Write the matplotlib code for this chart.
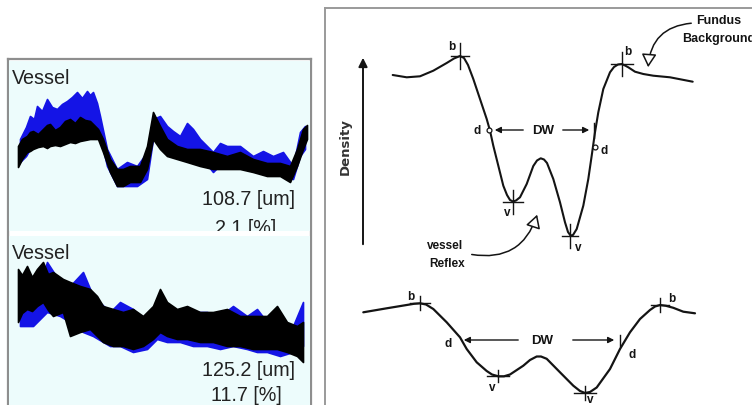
import numpy as np
import matplotlib
matplotlib.use('Agg')
import matplotlib.pyplot as plt
from matplotlib.patches import FancyArrowPatch

W, H = 752, 406

# ------------------------ vessel profile bands (left) ------------------------ #
# upper profile: sample position, band top / bottom (grey level)
top_blue_x = [10, 16, 20, 24, 27, 32, 37, 42, 47, 52, 57, 62, 67, 72, 77, 80, 83, 87, 90, 97,
              107, 117, 127, 137, 143, 150, 157, 163, 170, 177, 183, 190, 203, 210, 217, 230,
              243, 253, 263, 273, 283, 290, 295]
top_blue_hi = [92, 104, 115, 112, 125, 120, 132, 124, 122, 127, 130, 134, 139, 133, 140, 136, 139,
               128, 115, 82, 62, 69, 65, 79, 112, 115, 105, 100, 95, 108, 102, 92, 79, 88, 85, 85,
               75, 80, 75, 79, 65, 99, 105]
top_blue_lo = [69, 75, 82, 86, 92, 95, 99, 101, 102, 104, 105, 107, 109, 106, 105, 104, 102,
               98, 95, 65, 45, 45, 45, 52, 92, 92, 82, 80, 79, 80, 82, 75, 59, 66, 69, 65,
               62, 60, 62, 55, 52, 75, 82]

top_black_x = [8, 12, 17, 20, 23, 28, 33, 37, 40, 45, 50, 55, 60, 65, 70, 75, 80, 88, 93, 100,
               107, 113, 120, 130, 137, 143, 150, 157, 167, 177, 190, 203, 217, 230, 243, 257,
               270, 280, 287, 293, 297]
top_black_hi = [85, 92, 95, 99, 100, 97, 102, 106, 107, 101, 104, 110, 112, 108, 114, 111, 110,
                102, 92, 72, 62, 62, 65, 65, 85, 119, 105, 92, 85, 82, 82, 79, 75, 79, 72, 68,
                68, 65, 82, 102, 106]
top_black_lo = [64, 72, 79, 80, 82, 84, 85, 83, 85, 86, 85, 87, 89, 88, 90, 91, 92,
                92, 79, 59, 45, 45, 49, 49, 62, 92, 82, 75, 72, 69, 65, 62, 62, 62, 59, 55,
                55, 49, 65, 82, 92]

# lower profile
bot_blue_x = [10, 23, 37, 50, 60, 73, 83, 100, 110, 123, 137, 147, 157, 170, 183, 197, 210,
              223, 237, 247, 257, 270, 283, 293]
bot_blue_hi = [109, 99, 143, 123, 119, 133, 109, 93, 103, 96, 83, 83, 96, 89, 93, 93, 89,
               99, 89, 96, 83, 86, 79, 103]
bot_blue_lo = [79, 79, 93, 89, 83, 73, 69, 59, 59, 53, 56, 66, 63, 63, 59, 59, 56,
               59, 56, 53, 53, 49, 53, 59]

bot_black_x = [8, 12, 17, 22, 27, 33, 38, 43, 53, 60, 70, 80, 87, 93, 103, 113, 123, 133, 143,
               150, 157, 167, 177, 190, 203, 217, 230, 243, 257, 267, 277, 287, 293]
bot_black_hi = [136, 130, 139, 128, 136, 143, 131, 133, 126, 123, 119, 116, 109, 99, 96, 93, 96,
                89, 99, 116, 103, 96, 99, 93, 93, 96, 89, 89, 89, 99, 83, 79, 83]
bot_black_lo = [83, 92, 96, 94, 99, 103, 95, 89, 93, 69, 73, 76, 69, 63, 59, 59, 56, 59, 66,
                73, 69, 66, 66, 63, 63, 59, 59, 56, 56, 56, 53, 49, 43]

top_width, top_pct = '108.7 [um]', '2.1 [%]'
bot_width, bot_pct = '125.2 [um]', '11.7 [%]'

# -------------------------- schematic profiles (right) ----------------------- #
upper_x = [392.7, 406.7, 420, 433.3, 446.7, 454, 460, 464, 468, 473.3, 480, 486.7, 490, 493.3,
           498.3, 503.3, 507, 510, 513, 516, 520, 526.7, 533.3, 537, 540.7, 544, 547, 553.3,
           560, 565, 568, 570.5, 573, 576.7, 583.3, 588.3, 591.7, 595, 598.3, 603.3, 610, 614,
           618, 621.7, 625, 628.3, 635, 643.3, 653.3, 670, 692.7]
upper_y = [76, 78.3, 77.3, 71.7, 64, 59.5, 57, 59, 66, 80, 100, 120, 131.7, 146.7,
           166.7, 186.7, 196, 201, 202.5, 201.5, 198.3, 185, 167, 161.5, 159.3, 160.5, 164, 180,
           203.3, 223.3, 233, 236.5, 236, 230, 206.7, 180, 156.7, 133.3, 113.3, 90, 73.3, 68,
           65.5, 65, 66.5, 68.3, 72.7, 75, 76.7, 78.3, 82.7]

lower_x = [363.3, 386.7, 406.7, 414, 420, 426, 433.3, 446.7, 460, 466.7, 476.7, 486.7, 492,
           498.3, 504, 510, 523.3, 530, 536.7, 541, 546.7, 560, 573.3, 580, 585, 590, 596.7,
           610, 620, 630, 640, 650, 655, 660, 666, 673.3, 683.3, 695]
lower_y = [313.3, 309.3, 306, 304.8, 304.3, 305.5, 310, 323.3, 338.3, 350, 363.3, 372, 375.5,
           377.3, 377.3, 375.5, 366.7, 361, 357.5, 357.5, 359.8, 373.3, 386.7, 392, 394, 393,
           388.5, 370, 350, 333.3, 320, 311, 307.5, 306, 306.8, 308.8, 312.7, 314.3]

# cross marks at background (b) and vessel (v) points: x, y, half width, half height
upper_marks = [(460, 56.7, 9, 13), (621.7, 65, 11, 12), (512.7, 202.7, 10, 12), (570, 236.7, 8, 12)]
lower_marks = [(420, 304.3, 10, 7), (660, 306, 9, 7), (498.3, 377.3, 11, 6), (585, 394, 11, 7)]


def px_axes(fig, x0, y0, x1, y1):
    return fig.add_axes([x0 / W, 1 - y1 / H, (x1 - x0) / W, (y1 - y0) / H])


fig = plt.figure(figsize=(W / 100, H / 100), dpi=100)
fig.patch.set_facecolor('white')

# ------------------------------ left panel frame ----------------------------- #
frame = px_axes(fig, 8, 60, 311, 420)
frame.set_xticks([]); frame.set_yticks([])
for s in frame.spines.values():
    s.set_color('#8e8e8e'); s.set_linewidth(1.6)
frame.set_facecolor('white')

lab_font = dict(family='Liberation Sans', fontsize=14.2, color='#222222')


def profile_panel(box, ylim, bx, blo, bhi, kx, klo, khi, vessel_y, width_txt, width_y, pct_txt, pct_y):
    ax = px_axes(fig, *box)
    ax.set_facecolor('#edfcfc')
    ax.set_xlim(-1, 300); ax.set_ylim(*ylim)
    ax.set_xticks([]); ax.set_yticks([])
    for s in ax.spines.values():
        s.set_visible(False)
    ax.fill_between(bx, blo, bhi, color='#1414e6', lw=1.2, edgecolor='#1414e6')
    ax.fill_between(kx, klo, khi, color='black', lw=1.2, edgecolor='black')
    ax.text(2, vessel_y, 'Vessel', va='baseline', ha='left', **lab_font)
    ax.text(239, width_y, width_txt, va='baseline', ha='center', **lab_font)
    ax.text(236, pct_y, pct_txt, va='baseline', ha='center', clip_on=True, **lab_font)
    return ax


profile_panel((9, 62, 310, 232), (0, 170), top_blue_x, top_blue_lo, top_blue_hi,
              top_black_x, top_black_lo, top_black_hi, 148, top_width, 27, top_pct, -2)
profile_panel((9, 237, 310, 406), (0, 169), bot_blue_x, bot_blue_lo, bot_blue_hi,
              bot_black_x, bot_black_lo, bot_black_hi, 147, bot_width, 30, bot_pct, 5)

# ------------------------------ right schematic ------------------------------ #
ax = px_axes(fig, 325, 9, 752, 406)
ax.set_xlim(325, 752); ax.set_ylim(406, 9)
ax.set_xticks([]); ax.set_yticks([])
for side in ('right', 'bottom'):
    ax.spines[side].set_visible(False)
for side in ('left', 'top'):
    ax.spines[side].set_color('#9a9a9a'); ax.spines[side].set_linewidth(1.4)

ink = '#141414'
ax.plot(upper_x, upper_y, color=ink, lw=1.5, solid_joinstyle='round', solid_capstyle='round')
ax.plot(lower_x, lower_y, color=ink, lw=1.6, solid_joinstyle='round', solid_capstyle='round')
for x, y, hw, hh in upper_marks + lower_marks:
    ax.plot([x - hw, x + hw], [y, y], color=ink, lw=1.0)
    ax.plot([x, x], [y - hh, y + hh], color=ink, lw=1.0)

small = dict(family='Liberation Sans', fontweight='bold', fontsize=8.5, color=ink,
             ha='center', va='center')
for tx, ty, s in [(452, 47, 'b'), (628, 52, 'b'), (477, 131, 'd'), (604, 151, 'd'),
                  (507, 213, 'v'), (578, 248, 'v'),
                  (411, 297, 'b'), (672, 299, 'b'), (448, 344, 'd'), (632, 355, 'd'),
                  (492, 388, 'v'), (590, 400, 'v')]:
    ax.text(tx, ty, s, **small)

# DW width arrows
dw = dict(arrowstyle='-|>', color=ink, lw=1.0, mutation_scale=9)
ax.text(543, 131, 'DW', family='Liberation Sans', fontweight='bold', fontsize=9.5,
        color=ink, ha='center', va='center')
ax.annotate('', xy=(492, 131), xytext=(526, 131), arrowprops=dw)
ax.annotate('', xy=(592, 131), xytext=(560, 131), arrowprops=dw)
ax.plot([594, 594], [124, 139], color=ink, lw=1.0)
ax.plot([489, 595], [131, 148], ls='none', marker='o', ms=3.5, mfc='white', mec=ink, mew=0.9)

ax.text(542, 341, 'DW', family='Liberation Sans', fontweight='bold', fontsize=9.5,
        color=ink, ha='center', va='center')
ax.annotate('', xy=(461, 341), xytext=(521, 341), arrowprops=dw)
ax.annotate('', xy=(617, 341), xytext=(570, 341), arrowprops=dw)
ax.plot([620, 620], [336, 347], color=ink, lw=1.0)

# density axis
ax.annotate('', xy=(363, 56), xytext=(363, 248),
            arrowprops=dict(arrowstyle='-|>', color=ink, lw=1.4, mutation_scale=13))
ax.text(345, 147, 'Density', family='DejaVu Sans', fontweight='bold', fontsize=9.5,
        color='#333333', rotation=90, ha='center', va='center')

# callouts
ax.text(719, 21, 'Fundus', family='Liberation Sans', fontweight='bold', fontsize=9,
        color=ink, ha='center', va='center')
ax.text(682, 39, 'Background', family='Liberation Sans', fontweight='bold', fontsize=9,
        color=ink, ha='left', va='center')
ax.add_patch(FancyArrowPatch((694, 24), (648, 71), connectionstyle='arc3,rad=0.45',
                             arrowstyle='-|>,head_length=0.8,head_width=0.45', mutation_scale=10,
                             fc='white', ec=ink, lw=1.1))

ax.text(445, 246, 'vessel', family='Liberation Sans', fontweight='bold', fontsize=8.5,
        color=ink, ha='center', va='center')
ax.text(447, 264, 'Reflex', family='Liberation Sans', fontweight='bold', fontsize=8.5,
        color=ink, ha='center', va='center')
ax.add_patch(FancyArrowPatch((469, 255), (538, 213), connectionstyle='arc3,rad=0.45',
                             arrowstyle='-|>,head_length=0.8,head_width=0.45', mutation_scale=10,
                             fc='white', ec=ink, lw=1.1))

fig.savefig('out.png', dpi=100)
